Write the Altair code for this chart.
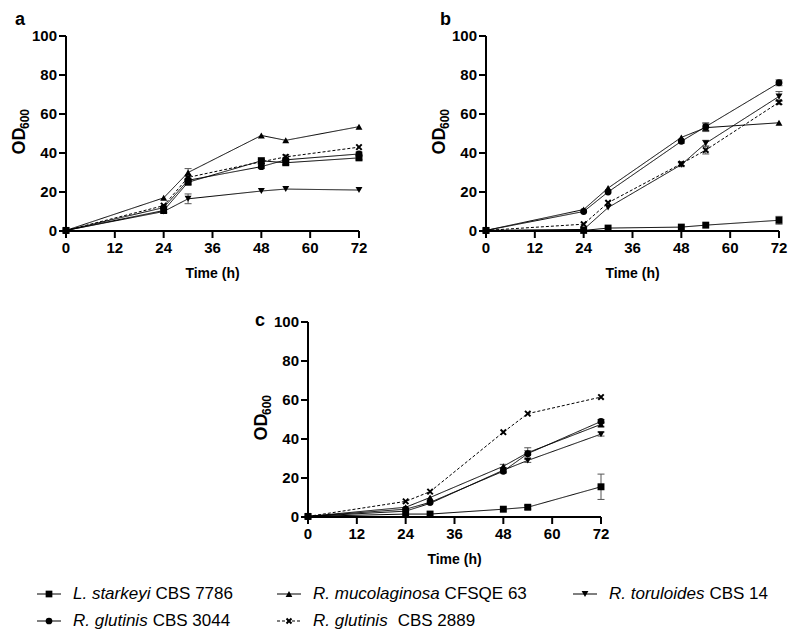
import altair as alt
import pandas as pd

# ---------------- data ----------------
time_h = [0, 24, 30, 48, 54, 72]
series_keys = ["starkeyi", "mucolaginosa", "toruloides", "glutinis3044", "glutinis2889"]
species_italic = ["L. starkeyi", "R. mucolaginosa", "R. toruloides", "R. glutinis", "R. glutinis"]
strain_labels = ["CBS 7786", "CFSQE 63", "CBS 14", "CBS 3044", "CBS 2889"]

# panel a
a_starkeyi = [0.3, 10.5, 25, 36, 35, 37.5]
a_mucolaginosa = [0.3, 17, 30, 49, 46.5, 53.5]
a_toruloides = [0.3, 10, 16.5, 20.5, 21.5, 21]
a_glutinis3044 = [0.3, 12, 26, 33, 36.5, 39.5]
a_glutinis2889 = [0.3, 13, 27.5, 35.5, 38, 43]
a_err_starkeyi = [0, 1, 1, 1.5, 1, 1]
a_err_mucolaginosa = [0, 0.5, 2, 0.5, 0.5, 0.5]
a_err_toruloides = [0, 0.5, 2.5, 0.5, 0.5, 0.5]
a_err_glutinis3044 = [0, 0.5, 1, 1, 1, 1]
a_err_glutinis2889 = [0, 0.5, 1, 1, 1, 0.5]

# panel b
b_starkeyi = [0.3, 0.3, 1.5, 2, 3, 5.5]
b_mucolaginosa = [0.3, 11, 22, 48, 53, 55.5]
b_toruloides = [0.3, 0.8, 12, 34, 45, 69]
b_glutinis3044 = [0.3, 10, 20, 46, 53.5, 76]
b_glutinis2889 = [0.3, 3.5, 14.5, 34.5, 41.5, 66]
b_err_starkeyi = [0, 0.3, 0.5, 0.5, 0.5, 2]
b_err_mucolaginosa = [0, 0.5, 0.5, 0.5, 2, 0.5]
b_err_toruloides = [0, 0.5, 0.5, 1, 1.5, 2.5]
b_err_glutinis3044 = [0, 0.5, 0.5, 1, 2, 1.5]
b_err_glutinis2889 = [0, 0.5, 0.5, 1, 2, 1]

# panel c
c_starkeyi = [0.3, 1.5, 1.5, 4, 5, 15.5]
c_mucolaginosa = [0.3, 5, 10, 26, 33, 47.5]
c_toruloides = [0.3, 3, 7, 24, 29, 42.5]
c_glutinis3044 = [0.3, 4, 7.5, 23.5, 32.5, 49]
c_glutinis2889 = [0.3, 8, 13, 43.5, 53, 61.5]
c_err_starkeyi = [0, 0.3, 0.3, 0.5, 1, 6.5]
c_err_mucolaginosa = [0, 0.5, 0.5, 1, 1, 1]
c_err_toruloides = [0, 0.5, 0.5, 1, 1, 1]
c_err_glutinis3044 = [0, 0.5, 0.5, 1, 3, 1]
c_err_glutinis2889 = [0, 0.5, 0.5, 0.5, 0.5, 0.5]

panels = {
    "a": ([a_starkeyi, a_mucolaginosa, a_toruloides, a_glutinis3044, a_glutinis2889],
          [a_err_starkeyi, a_err_mucolaginosa, a_err_toruloides, a_err_glutinis3044, a_err_glutinis2889]),
    "b": ([b_starkeyi, b_mucolaginosa, b_toruloides, b_glutinis3044, b_glutinis2889],
          [b_err_starkeyi, b_err_mucolaginosa, b_err_toruloides, b_err_glutinis3044, b_err_glutinis2889]),
    "c": ([c_starkeyi, c_mucolaginosa, c_toruloides, c_glutinis3044, c_glutinis2889],
          [c_err_starkeyi, c_err_mucolaginosa, c_err_toruloides, c_err_glutinis3044, c_err_glutinis2889]),
}

x_ticks = [0, 12, 24, 36, 48, 60, 72]
y_ticks = [0, 20, 40, 60, 80, 100]
x_title = "Time (h)"
y_title_main = "OD"
y_title_sub = "600"

# ---------------- style / layout ----------------
FONT = "Liberation Sans"
PW, PH = 293, 195
COL_GAP, ROW_GAP = 127, 91
PAD_L, PAD_T = 3, 3
OX = 8 + PAD_L + 55            # page x of the first panel's origin
C_OFF = 308 - OX               # panel c drawn shifted right inside column 1
X_PATH = "M-1,-1L1,1M1,-1L-1,1"
YS = alt.Scale(domain=[min(y_ticks), max(y_ticks)], nice=False)


def make_df(letter):
    vals, errs = panels[letter]
    rows = []
    for key, v, e in zip(series_keys, vals, errs):
        for t, od, er in zip(time_h, v, e):
            rows.append({"series": key, "t": t, "od": od, "err": er,
                         "lo": od - er, "hi": od + er})
    return pd.DataFrame(rows)


xt = pd.DataFrame({"t": x_ticks, "lab": [str(v) for v in x_ticks]})
yt = pd.DataFrame({"v": y_ticks, "lab": [str(v) for v in y_ticks]})
dom = pd.DataFrame({"t0": [min(x_ticks)], "t1": [max(x_ticks)],
                    "v0": [min(y_ticks)], "v1": [max(y_ticks)]})


def panel(letter, off=0):
    XS = alt.Scale(domain=[min(x_ticks), max(x_ticks)], nice=False, range=[off, off + PW])

    def xq(f):
        return alt.X(f, type="quantitative", scale=XS, axis=None)

    def yq(f):
        return alt.Y(f, type="quantitative", scale=YS, axis=None)

    # axes drawn from the tick arrays
    xdom = alt.Chart(dom).mark_rule(color="black", strokeWidth=2).encode(
        x=xq("t0"), x2="t1", y=yq("v0"))
    ydom = alt.Chart(dom).mark_rule(color="black", strokeWidth=2).encode(
        x=xq("t0"), y=yq("v0"), y2="v1")
    xtk = alt.Chart(xt).mark_rule(color="black", strokeWidth=2).encode(
        x=xq("t"), y=alt.value(PH), y2=alt.value(PH + 7))
    ytk = alt.Chart(yt).mark_rule(color="black", strokeWidth=2).encode(
        y=yq("v"), x=alt.value(off - 7), x2=alt.value(off))
    xlab = alt.Chart(xt).mark_text(font=FONT, fontSize=15, fontWeight="bold", color="black",
                                   align="center", baseline="middle").encode(
        x=xq("t"), y=alt.value(PH + 17), text="lab:N")
    ylab = alt.Chart(yt).mark_text(font=FONT, fontSize=15, fontWeight="bold", color="black",
                                   align="right", baseline="middle").encode(
        y=yq("v"), x=alt.value(off - 9), text="lab:N")

    d = make_df(letter)
    base = alt.Chart(d)
    lines = base.mark_line(color="black", strokeWidth=1).encode(
        x=xq("t"), y=yq("od"), detail="series:N",
        strokeDash=alt.StrokeDash("series:N", scale=alt.Scale(
            domain=series_keys, range=[[1, 0], [1, 0], [1, 0], [1, 0], [3, 2]]), legend=None))
    ebase = base.transform_filter("datum.err > 0.8")
    err = ebase.mark_rule(color="#555", strokeWidth=1).encode(
        x=xq("t"), y=yq("lo"), y2="hi")
    cap_hi = ebase.mark_point(shape="stroke", size=49, color="#555", strokeWidth=1,
                              opacity=1).encode(x=xq("t"), y=yq("hi"))
    cap_lo = ebase.mark_point(shape="stroke", size=49, color="#555", strokeWidth=1,
                              opacity=1).encode(x=xq("t"), y=yq("lo"))
    pts = base.transform_filter("datum.series != 'glutinis2889'").mark_point(
        filled=True, color="black", size=48, opacity=1).encode(
        x=xq("t"), y=yq("od"),
        shape=alt.Shape("series:N", scale=alt.Scale(
            domain=series_keys,
            range=["square", "triangle-up", "triangle-down", "circle", X_PATH]), legend=None))
    xs = base.transform_filter("datum.series == 'glutinis2889'").mark_point(
        shape=X_PATH, filled=False, color="black", strokeWidth=2, size=30,
        opacity=1).encode(x=xq("t"), y=yq("od"))

    one = pd.DataFrame({"k": [letter], "m": [y_title_main], "s": [y_title_sub],
                        "xt": [x_title]})
    lab_x = {"a": -51, "b": -46, "c": -53}[letter]
    lab_y = {"a": -11, "b": -11, "c": 4}[letter]
    lab = alt.Chart(one).mark_text(
        font=FONT, fontSize=18, fontWeight="bold", align="left", baseline="alphabetic",
        color="black").encode(text="k:N", x=alt.value(off + lab_x), y=alt.value(lab_y))
    yt1 = alt.Chart(one).mark_text(
        font=FONT, fontSize=18, fontWeight="bold", align="center", baseline="middle",
        angle=270, color="black").encode(text="m:N", x=alt.value(off - 46), y=alt.value(105))
    yt2 = alt.Chart(one).mark_text(
        font=FONT, fontSize=12, fontWeight="bold", align="center", baseline="middle",
        angle=270, color="black").encode(text="s:N", x=alt.value(off - 41), y=alt.value(83))
    xtt = alt.Chart(one).mark_text(
        font=FONT, fontSize=14, fontWeight="bold", align="center", baseline="middle",
        color="black").encode(text="xt:N", x=alt.value(off + PW / 2), y=alt.value(PH + 43))
    return alt.layer(xdom, ydom, xtk, ytk, xlab, ylab, lines, err, cap_hi, cap_lo, pts, xs,
                     lab, yt1, yt2, xtt).properties(width=PW, height=PH)


# ---------------- legend ----------------
legend_col_x = [49, 289, 585, 49, 289]   # marker centres across the page
legend_row = [0, 0, 0, 1, 1]
WID = {" ": 278, ".": 278, "L": 556, "R": 722, "s": 500, "t": 278, "a": 556, "r": 333,
       "k": 500, "e": 556, "y": 500, "i": 222, "m": 833, "u": 556, "c": 500, "o": 556,
       "l": 222, "g": 556, "n": 556, "d": 556}
LFS = 17


def text_w(s):
    return sum(WID.get(ch, 556) for ch in s) / 1000 * LFS


leg = pd.DataFrame({
    "series": series_keys,
    "lx": legend_col_x,
    "row": legend_row,
    "species": species_italic,
    "strain": strain_labels,
})
leg["x1"] = leg["lx"] - 12
leg["x2"] = leg["lx"] + 12
leg["tx"] = leg["lx"] + 24
leg["sx"] = leg["tx"] + leg["species"].map(text_w) + 5 + pd.Series([0, 0, 0, 0, 5])

lsc = alt.Scale(domain=[0, 797], range=[-OX, 797 - OX])
ly = alt.Y("row:Q", scale=alt.Scale(domain=[0, 1], range=[-14, 13]), axis=None)
lbase = alt.Chart(leg)
lseg = lbase.mark_rule(color="black", strokeWidth=1.2).encode(
    x=alt.X("x1:Q", scale=lsc, axis=None), x2="x2:Q", y=ly,
    strokeDash=alt.StrokeDash("series:N", scale=alt.Scale(
        domain=series_keys, range=[[1, 0], [1, 0], [1, 0], [1, 0], [3, 2]]), legend=None))
lpts = lbase.transform_filter("datum.series != 'glutinis2889'").mark_point(
    filled=True, color="black", size=45, opacity=1).encode(
    x=alt.X("lx:Q", scale=lsc, axis=None), y=ly,
    shape=alt.Shape("series:N", scale=alt.Scale(
        domain=series_keys,
        range=["square", "triangle-up", "triangle-down", "circle", X_PATH]), legend=None))
lxs = lbase.transform_filter("datum.series == 'glutinis2889'").mark_point(
    shape=X_PATH, filled=False, color="black", strokeWidth=2, size=25, opacity=1).encode(
    x=alt.X("lx:Q", scale=lsc, axis=None), y=ly)
lt1 = lbase.mark_text(font=FONT, fontSize=LFS, fontStyle="italic",
                      align="left", baseline="middle", color="black").encode(
    x=alt.X("tx:Q", scale=lsc, axis=None), y=ly, text="species:N")
lt2 = lbase.mark_text(font=FONT, fontSize=LFS,
                      align="left", baseline="middle", color="black").encode(
    x=alt.X("sx:Q", scale=lsc, axis=None), y=ly, text="strain:N")
legend = alt.layer(lseg, lpts, lxs, lt1, lt2).properties(width=200, height=10)

blank = alt.Chart(pd.DataFrame({"v": [0]})).mark_point(opacity=0).encode(
    x=alt.X("v:Q", axis=None, scale=alt.Scale(domain=[0, 1])),
    y=alt.Y("v:Q", axis=None, scale=alt.Scale(domain=[0, 1]))).properties(width=10, height=10)

chart = alt.concat(
    panel("a"), panel("b"), panel("c", C_OFF), blank, legend,
    columns=2, spacing={"row": ROW_GAP, "column": COL_GAP}, bounds="flush",
).configure_view(stroke=None).properties(
    padding={"left": PAD_L, "top": PAD_T, "right": 0, "bottom": 0},
)

chart.save("out.html", embed_options={"renderer": "svg", "actions": False})
